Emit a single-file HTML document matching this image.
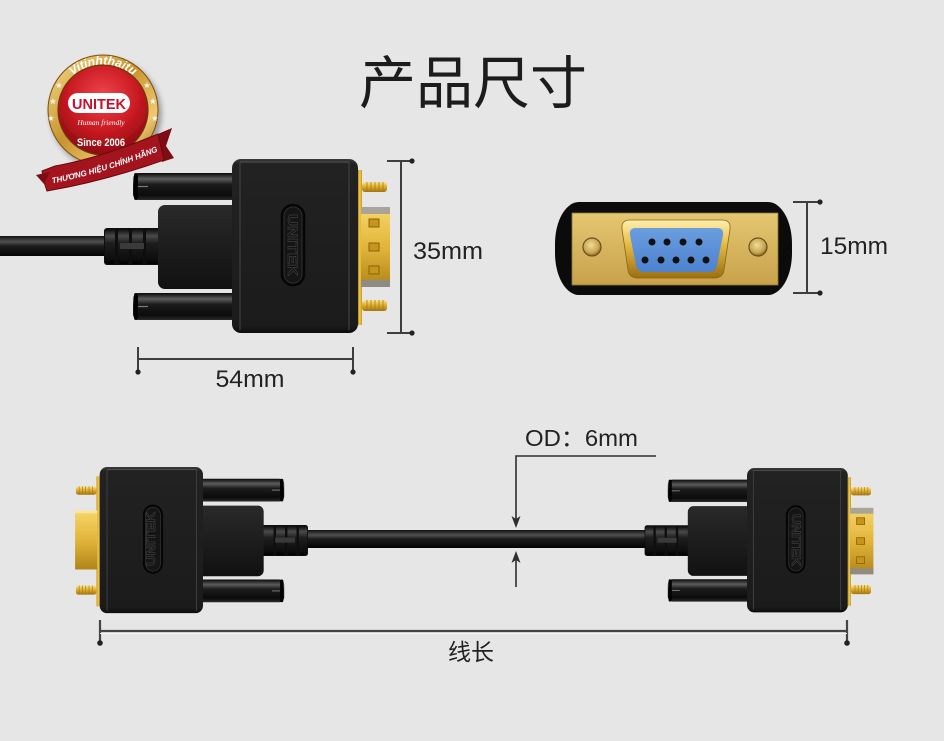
<!DOCTYPE html>
<html><head><meta charset="utf-8">
<style>
html,body{margin:0;padding:0;background:#e6e6e6;}
svg{display:block;}
</style></head><body>
<svg width="944" height="741" viewBox="0 0 944 741" xmlns="http://www.w3.org/2000/svg" xmlns:xlink="http://www.w3.org/1999/xlink">
<defs>
<linearGradient id="cab" x1="0" y1="0" x2="0" y2="1">
 <stop offset="0" stop-color="#111"/>
 <stop offset="0.28" stop-color="#505050"/>
 <stop offset="0.5" stop-color="#1c1c1c"/>
 <stop offset="1" stop-color="#030303"/>
</linearGradient>
<linearGradient id="screwg" x1="0" y1="0" x2="0" y2="1">
 <stop offset="0" stop-color="#080808"/>
 <stop offset="0.22" stop-color="#5c5c5c"/>
 <stop offset="0.42" stop-color="#1c1c1c"/>
 <stop offset="0.82" stop-color="#0b0b0b"/>
 <stop offset="1" stop-color="#2a2a2a"/>
</linearGradient>
<linearGradient id="bootg" x1="0" y1="0" x2="0" y2="1">
 <stop offset="0" stop-color="#0c0c0c"/>
 <stop offset="0.2" stop-color="#4a4a4a"/>
 <stop offset="0.4" stop-color="#1e1e1e"/>
 <stop offset="0.85" stop-color="#0e0e0e"/>
 <stop offset="1" stop-color="#000"/>
</linearGradient>
<linearGradient id="bodyg" x1="0" y1="0" x2="0" y2="1">
 <stop offset="0" stop-color="#3a3a3a"/>
 <stop offset="0.03" stop-color="#222"/>
 <stop offset="0.96" stop-color="#1b1b1b"/>
 <stop offset="1" stop-color="#0c0c0c"/>
</linearGradient>
<linearGradient id="shellg" x1="0" y1="0" x2="0" y2="1">
 <stop offset="0" stop-color="#2a2a2a"/>
 <stop offset="0.5" stop-color="#1d1d1d"/>
 <stop offset="1" stop-color="#111"/>
</linearGradient>
<linearGradient id="goldv" x1="0" y1="0" x2="0" y2="1">
 <stop offset="0" stop-color="#fbe497"/>
 <stop offset="0.45" stop-color="#e0b030"/>
 <stop offset="1" stop-color="#a37510"/>
</linearGradient>
<linearGradient id="goldh" x1="0" y1="0" x2="1" y2="0">
 <stop offset="0" stop-color="#b5870f"/>
 <stop offset="0.45" stop-color="#f2cc50"/>
 <stop offset="1" stop-color="#c4951c"/>
</linearGradient>
<linearGradient id="goldshell" x1="0" y1="0" x2="0" y2="1">
 <stop offset="0" stop-color="#f6d66a"/>
 <stop offset="0.5" stop-color="#e2b53a"/>
 <stop offset="1" stop-color="#b08518"/>
</linearGradient>
<linearGradient id="plateg" x1="0" y1="0" x2="0" y2="1">
 <stop offset="0" stop-color="#e4c772"/>
 <stop offset="0.5" stop-color="#d6b45e"/>
 <stop offset="1" stop-color="#c7a24a"/>
</linearGradient>
<linearGradient id="bevelg" x1="0" y1="0" x2="0" y2="1">
 <stop offset="0" stop-color="#fff0b0"/>
 <stop offset="0.4" stop-color="#e6bd4a"/>
 <stop offset="1" stop-color="#9a6f10"/>
</linearGradient>
<linearGradient id="blueg" x1="0" y1="0" x2="0" y2="1">
 <stop offset="0" stop-color="#6a9ee0"/>
 <stop offset="1" stop-color="#4d82cf"/>
</linearGradient>
<radialGradient id="holeg" cx="0.45" cy="0.4" r="0.6">
 <stop offset="0" stop-color="#f0dc98"/>
 <stop offset="0.7" stop-color="#c9a652"/>
 <stop offset="1" stop-color="#8a6a22"/>
</radialGradient>
<linearGradient id="ringg" x1="0" y1="0" x2="1" y2="1">
 <stop offset="0" stop-color="#f8dd8c"/>
 <stop offset="0.45" stop-color="#c8922e"/>
 <stop offset="0.75" stop-color="#f0c870"/>
 <stop offset="1" stop-color="#8c5c14"/>
</linearGradient>
<radialGradient id="redg" cx="0.5" cy="0.35" r="0.65">
 <stop offset="0" stop-color="#f0454a"/>
 <stop offset="0.6" stop-color="#c81a22"/>
 <stop offset="1" stop-color="#8c0a10"/>
</radialGradient>
<filter id="sh" x="-20%" y="-20%" width="150%" height="150%">
 <feGaussianBlur in="SourceAlpha" stdDeviation="3"/>
 <feOffset dx="3" dy="4"/>
 <feComponentTransfer><feFuncA type="linear" slope="0.35"/></feComponentTransfer>
 <feMerge><feMergeNode/><feMergeNode in="SourceGraphic"/></feMerge>
</filter>

<g id="conn">
 <rect x="-128" y="69" width="60" height="37" rx="3" fill="#0e0e0e"/>
 <rect x="-127" y="70" width="10" height="35" rx="3" fill="url(#bootg)"/>
 <rect x="-114" y="70" width="11" height="35" rx="3" fill="url(#bootg)"/>
 <rect x="-100" y="70" width="11" height="35" rx="3" fill="url(#bootg)"/>
 <rect x="-86" y="70" width="14" height="35" rx="3" fill="url(#bootg)"/>
 <rect x="-112" y="84" width="24" height="6" fill="#3a3a3a"/>
 <rect x="-74" y="46" width="82" height="84" rx="7" fill="url(#shellg)"/>
 <rect x="-99" y="14" width="106" height="27" rx="6" fill="url(#screwg)"/>
 <rect x="-99" y="134" width="106" height="27" rx="6" fill="url(#screwg)"/>
 <line x1="-96" y1="27.5" x2="-84" y2="27.5" stroke="#7a7a7a" stroke-width="1.2"/>
 <line x1="-96" y1="147.5" x2="-84" y2="147.5" stroke="#7a7a7a" stroke-width="1.2"/>
 <rect x="-98" y="14" width="4" height="27" rx="2" fill="#000"/>
 <rect x="-98" y="134" width="4" height="27" rx="2" fill="#000"/>
 <rect x="0" y="0" width="126" height="174" rx="9" fill="url(#bodyg)"/>
 <line x1="8" y1="3" x2="8" y2="171" stroke="#3d3d3d" stroke-width="1.3"/>
 <line x1="117" y1="3" x2="117" y2="171" stroke="#3d3d3d" stroke-width="1.3"/>
 <line x1="8" y1="3" x2="117" y2="3" stroke="#505050" stroke-width="1"/>
 <rect x="50" y="46" width="22" height="80" rx="11" fill="#151515" stroke="#060606" stroke-width="2.6"/>
 <rect x="52" y="48" width="18" height="76" rx="9" fill="none" stroke="#353535" stroke-width="0.8"/>
 <rect x="126" y="11" width="4" height="155" fill="url(#goldh)"/>
 <rect x="130" y="23" width="25" height="10" rx="3" fill="url(#goldv)"/>
 <rect x="130" y="141" width="25" height="11" rx="3" fill="url(#goldv)"/>
 <g stroke="#a57a18" stroke-width="0.8">
  <line x1="135" y1="23" x2="135" y2="33"/><line x1="139" y1="23" x2="139" y2="33"/><line x1="143" y1="23" x2="143" y2="33"/><line x1="147" y1="23" x2="147" y2="33"/><line x1="151" y1="23" x2="151" y2="33"/>
  <line x1="135" y1="141" x2="135" y2="152"/><line x1="139" y1="141" x2="139" y2="152"/><line x1="143" y1="141" x2="143" y2="152"/><line x1="147" y1="141" x2="147" y2="152"/><line x1="151" y1="141" x2="151" y2="152"/>
 </g>
</g>

<g id="maleshell">
 <rect x="129" y="48" width="29" height="80" fill="url(#goldshell)"/>
 <rect x="129" y="48" width="29" height="7" fill="#a8a49a"/>
 <rect x="129" y="121" width="29" height="7" fill="#8f8b82"/>
 <g fill="#c8951c" stroke="#8a6208" stroke-width="1">
  <rect x="137" y="60" width="10" height="8"/>
  <rect x="137" y="84" width="10" height="8"/>
  <rect x="137" y="107" width="10" height="8"/>
 </g>
</g>
<g id="femaleshell">
 <rect x="129" y="52" width="27" height="70" fill="url(#goldshell)"/>
 <rect x="129" y="52" width="27" height="3" fill="#fbe7a0"/>
</g>
</defs>

<rect width="944" height="741" fill="#e6e6e6"/>

<text x="473" y="103" text-anchor="middle" font-family="'Noto Sans CJK SC','WenQuanYi Zen Hei',sans-serif" font-size="57" fill="#1c1c1c">产品尺寸</text>

<!-- Top-left connector -->
<rect x="0" y="236" width="110" height="20" fill="url(#cab)"/>
<g transform="translate(232,159)"><use xlink:href="#conn"/><use xlink:href="#maleshell"/></g>
<text transform="translate(293,245) rotate(90)" text-anchor="middle" dominant-baseline="central" font-family="'Liberation Sans',sans-serif" font-weight="bold" font-size="14" textLength="62" lengthAdjust="spacingAndGlyphs" fill="#111" stroke="#404040" stroke-width="0.6">UNITEK</text>

<g stroke="#3e3e3e" stroke-width="2" fill="none">
 <line x1="401" y1="161" x2="401" y2="333"/>
 <line x1="387" y1="161" x2="412" y2="161"/>
 <line x1="387" y1="333" x2="412" y2="333"/>
</g>
<circle cx="412" cy="161" r="2.6" fill="#222"/>
<circle cx="412" cy="333" r="2.6" fill="#222"/>
<text x="413" y="259" font-family="'Liberation Sans',sans-serif" font-size="24" fill="#222" textLength="70" lengthAdjust="spacingAndGlyphs">35mm</text>

<g stroke="#3e3e3e" stroke-width="2" fill="none">
 <line x1="138" y1="359" x2="353" y2="359"/>
 <line x1="138" y1="347" x2="138" y2="372"/>
 <line x1="353" y1="347" x2="353" y2="372"/>
</g>
<circle cx="138" cy="372" r="2.6" fill="#222"/>
<circle cx="353" cy="372" r="2.6" fill="#222"/>
<text x="250" y="387" text-anchor="middle" font-family="'Liberation Sans',sans-serif" font-size="24" fill="#222" textLength="69" lengthAdjust="spacingAndGlyphs">54mm</text>

<!-- Female face -->
<rect x="555" y="202" width="237" height="93" rx="24" ry="42" fill="#0b0b0b"/>
<rect x="572" y="213" width="206" height="72" fill="url(#plateg)" stroke="#8f7330" stroke-width="0.8"/>
<circle cx="592" cy="247" r="9" fill="url(#holeg)" stroke="#6b5020" stroke-width="1.2"/>
<circle cx="758" cy="247" r="9" fill="url(#holeg)" stroke="#6b5020" stroke-width="1.2"/>
<path d="M630,220 L722,220 Q731,220 730,229 L724,270 Q723,278 714,278 L638,278 Q629,278 628,270 L622,229 Q621,220 630,220 Z" fill="url(#bevelg)" stroke="#8a6410" stroke-width="0.8"/>
<path d="M636,228 L717,228 Q724,228 723,235 L717,265 Q716,272 709,272 L644,272 Q637,272 636,265 L630,235 Q629,228 636,228 Z" fill="url(#blueg)"/>
<g fill="#111">
 <circle cx="652" cy="242" r="3.5"/><circle cx="667" cy="242" r="3.5"/><circle cx="683" cy="242" r="3.5"/><circle cx="699" cy="242" r="3.5"/>
 <circle cx="645" cy="260" r="3.5"/><circle cx="661" cy="260" r="3.5"/><circle cx="676" cy="260" r="3.5"/><circle cx="691" cy="260" r="3.5"/><circle cx="706" cy="260" r="3.5"/>
</g>

<g stroke="#3e3e3e" stroke-width="2" fill="none">
 <line x1="807" y1="202" x2="807" y2="293"/>
 <line x1="793" y1="202" x2="820" y2="202"/>
 <line x1="793" y1="293" x2="820" y2="293"/>
</g>
<circle cx="820" cy="202" r="2.6" fill="#222"/>
<circle cx="820" cy="293" r="2.6" fill="#222"/>
<text x="820" y="254" font-family="'Liberation Sans',sans-serif" font-size="24" fill="#222" textLength="68" lengthAdjust="spacingAndGlyphs">15mm</text>

<!-- Bottom cable -->
<rect x="300" y="530" width="345" height="18" fill="url(#cab)"/>

<g transform="translate(203,467) scale(-0.82,0.84)"><use xlink:href="#conn"/><use xlink:href="#femaleshell"/></g>
<text transform="translate(151,539) rotate(-90)" text-anchor="middle" dominant-baseline="central" font-family="'Liberation Sans',sans-serif" font-weight="bold" font-size="12" textLength="54" lengthAdjust="spacingAndGlyphs" fill="#111" stroke="#404040" stroke-width="0.6">UNITEK</text>

<g transform="translate(747,468) scale(0.8,0.83)"><use xlink:href="#conn"/><use xlink:href="#maleshell"/></g>
<text transform="translate(796,540) rotate(90)" text-anchor="middle" dominant-baseline="central" font-family="'Liberation Sans',sans-serif" font-weight="bold" font-size="12" textLength="52" lengthAdjust="spacingAndGlyphs" fill="#111" stroke="#404040" stroke-width="0.6">UNITEK</text>

<!-- OD annotation -->
<text x="525" y="446" font-family="'Liberation Sans','Noto Sans CJK SC',sans-serif" font-size="23" fill="#222" textLength="113" lengthAdjust="spacingAndGlyphs">OD：6mm</text>
<g stroke="#2e2e2e" stroke-width="1.6" fill="none">
 <polyline points="656,456 516,456 516,522"/>
 <line x1="516" y1="557" x2="516" y2="587"/>
</g>
<polygon points="516,528 511.5,516 516,519 520.5,516" fill="#2e2e2e"/>
<polygon points="516,551 511.5,563 516,560 520.5,563" fill="#2e2e2e"/>

<!-- cable length -->
<g stroke="#454545" stroke-width="2.2" fill="none">
 <line x1="100" y1="631" x2="847" y2="631"/>
 <line x1="100" y1="620" x2="100" y2="643"/>
 <line x1="847" y1="620" x2="847" y2="643"/>
</g>
<line x1="100" y1="633.5" x2="847" y2="633.5" stroke="#f4f4f4" stroke-width="1"/>
<circle cx="100" cy="643" r="2.8" fill="#222"/>
<circle cx="847" cy="643" r="2.8" fill="#222"/>
<text x="471" y="660" text-anchor="middle" font-family="'Noto Sans CJK SC','WenQuanYi Zen Hei',sans-serif" font-size="23" fill="#222">线长</text>

<!-- Badge -->
<g filter="url(#sh)">
 <circle cx="103" cy="110" r="55" fill="url(#ringg)" stroke="#7a4e10" stroke-width="1"/>
 <circle cx="103" cy="110" r="45" fill="url(#redg)" stroke="#6a3a08" stroke-width="1.2"/>
</g>
<path id="arcT" d="M62.3,88 A47,47 0 0 1 143.7,88" fill="none"/>
<text font-family="'Liberation Sans',sans-serif" font-weight="bold" font-style="italic" font-size="12" fill="#ffffff"><textPath xlink:href="#arcT" startOffset="50%" text-anchor="middle">Vitinhthaitu</textPath></text>
<g font-family="'DejaVu Sans',sans-serif" font-size="8" fill="#fff" text-anchor="middle">
 <text x="59" y="88">★</text><text x="147" y="88">★</text>
 <text x="53" y="104">★</text><text x="153" y="104">★</text>
 <text x="51" y="121">★</text><text x="155" y="121">★</text>
</g>
<rect x="68" y="93" width="62" height="20" rx="10" fill="#fff"/>
<text x="99" y="109" text-anchor="middle" font-family="'Liberation Sans',sans-serif" font-weight="bold" font-size="15" fill="#c8102e" textLength="54" lengthAdjust="spacingAndGlyphs">UNITEK</text>
<text x="101" y="125" text-anchor="middle" font-family="'Liberation Serif',serif" font-style="italic" font-size="7.5" fill="#fff">Human friendly</text>
<text x="101" y="146" text-anchor="middle" font-family="'Liberation Sans',sans-serif" font-weight="bold" font-size="11" fill="#fff" textLength="48" lengthAdjust="spacingAndGlyphs">Since 2006</text>
<path d="M158,134 L172,128 L166,146 L174,158 L162,162 Z" fill="#7e0c14"/>
<path d="M42,171 L55,166 Q100,158 158,134 L164,160 Q105,181 47,191 L44,182 Z" fill="#a3141e" stroke="#6a0a10" stroke-width="1"/>
<path d="M44,184 L36,175 L50,172 Z" fill="#7e0c14"/>
<path id="ribT" d="M44,185 Q105,174 166,148" fill="none"/>
<text font-family="'Liberation Sans','DejaVu Sans',sans-serif" font-weight="bold" font-style="italic" font-size="8" fill="#fff"><textPath xlink:href="#ribT" startOffset="50%" text-anchor="middle">THƯƠNG HIỆU CHÍNH HÃNG</textPath></text>
</svg>
</body></html>
